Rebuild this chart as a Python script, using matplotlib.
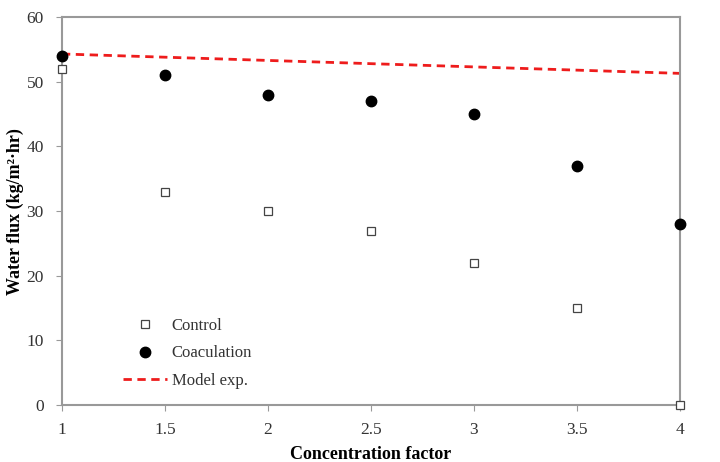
import matplotlib
matplotlib.use('Agg')
import matplotlib.pyplot as plt

plt.rcParams['font.family'] = ['Liberation Serif', 'DejaVu Serif']

cf = [1, 1.5, 2, 2.5, 3, 3.5, 4]
control = [52, 33, 30, 27, 22, 15, 0]
coagulation = [54, 51, 48, 47, 45, 37, 28]
model_x = [1, 1.5, 2, 2.5, 3, 3.5, 4]
model_y = [54.3, 53.8, 53.3, 52.8, 52.3, 51.8, 51.3]

fig = plt.figure(figsize=(7.2, 4.62), dpi=100)
ax = fig.add_axes([0.086, 0.123, 0.858, 0.84])

ax.plot(cf, control, 's', mfc='white', mec='#444444', ms=6, mew=0.9,
        label='Control', clip_on=False, zorder=3)
ax.plot(cf, coagulation, 'o', color='black', ms=7.5,
        label='Coaculation', clip_on=False, zorder=4)
ax.plot(model_x, model_y, '--', color='#ee1c1c', lw=2, dashes=(3, 2),
        label='Model exp.', zorder=2)

ax.set_xlim(1, 4)
ax.set_ylim(0, 60)
ax.set_xticks([1, 1.5, 2, 2.5, 3, 3.5, 4])
ax.set_xticklabels(['1', '1.5', '2', '2.5', '3', '3.5', '4'])
ax.set_yticks(range(0, 61, 10))

for s in ax.spines.values():
    s.set_color('#999999')
    s.set_linewidth(1.5)
ax.tick_params(direction='out', length=4, color='#999999', labelsize=12.5,
               labelcolor='#333333')
ax.tick_params(axis='x', pad=8)
ax.tick_params(axis='y', pad=9)

ax.set_xlabel('Concentration factor', fontsize=13, fontweight='bold')
ax.set_ylabel('Water flux (kg/m²·hr)', fontsize=13, fontweight='bold')
ax.xaxis.set_label_coords(0.5, -0.105)
ax.yaxis.set_label_coords(-0.062, 0.5)

leg = ax.legend(loc='lower left', bbox_to_anchor=(0.075, 0.003), frameon=False,
                fontsize=12, handlelength=2.6, handletextpad=0.3,
                labelspacing=0.7)
for t in leg.get_texts():
    t.set_color('#333333')

fig.savefig('out.png', dpi=100)
